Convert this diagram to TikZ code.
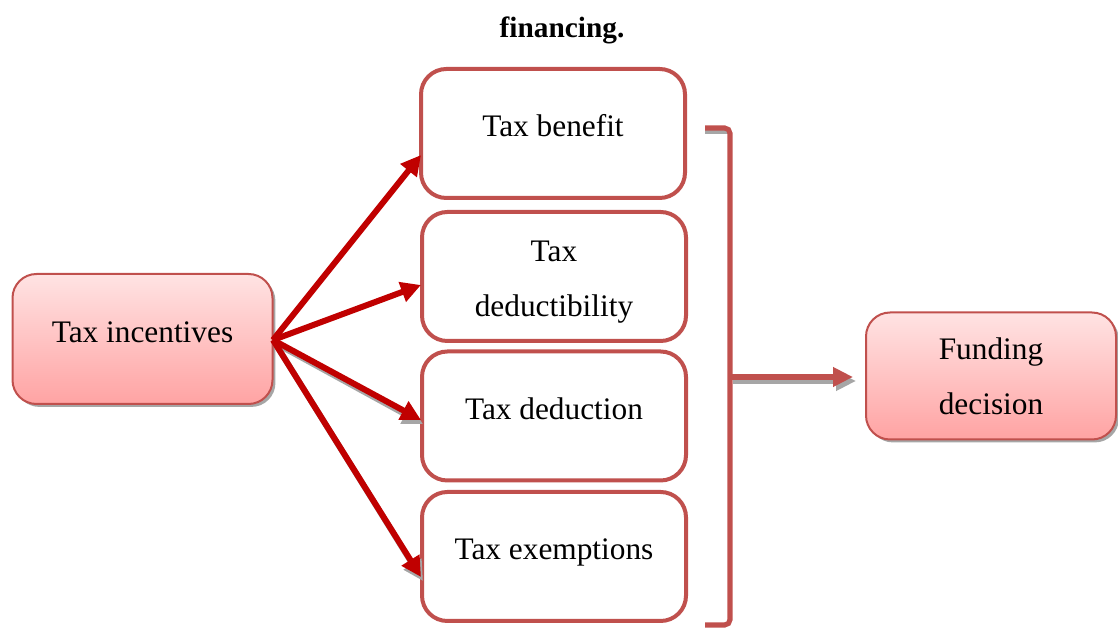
\documentclass[tikz,border=0pt]{standalone}
\usepackage{fontspec}
\setmainfont{Liberation Serif}
\usetikzlibrary{arrows.meta,shadows}
\definecolor{boxred}{HTML}{C0504D}
\definecolor{arrred}{HTML}{C00000}
\definecolor{shade}{HTML}{A6A6A6}
\tikzset{
  x=0.75pt, y=-0.75pt,
  every node/.style={font=\fontsize{23.5}{41}\selectfont, align=center, inner sep=0pt},
  oneline/.style={text height=16pt, text depth=11pt},
  pinkbox/.style={rounded corners=18pt, draw=boxred, line width=1.5pt,
    top color=red!11, bottom color=red!36,
    drop shadow={shadow xshift=2.2pt, shadow yshift=-2.2pt, fill=shade, opacity=1}},
  whitebox/.style={rounded corners=19pt, draw=boxred, line width=3pt, fill=white,
    minimum width=264*0.75pt, minimum height=129*0.75pt},
  redarrow/.style={draw=arrred, line width=4.5pt, -{Triangle[length=15pt,width=15pt]}},
  arrshadow/.style={draw=shade, line width=4.5pt, -{Triangle[length=15pt,width=15pt]}},
  brackline/.style={draw=boxred, line width=3.8pt},
  brackshadow/.style={draw=shade, line width=3.8pt},
}
\begin{document}
\begin{tikzpicture}
\useasboundingbox (0,0) rectangle (1118,630);
\node[font=\fontsize{22}{26}\selectfont\bfseries] (title) at (562,30) {financing.};

\node[pinkbox, oneline, minimum width=260*0.75pt, minimum height=130*0.75pt] (inc) at (142.5,339) {Tax incentives};
\node[pinkbox, minimum width=250*0.75pt, minimum height=127*0.75pt] (fund) at (991,376) {Funding\\decision};

\node[whitebox, oneline] (ben) at (553,133.5) {Tax benefit};
\node[whitebox] (ded) at (554,276.5) {\rule{0pt}{24pt}Tax\\deductibility};
\node[whitebox, oneline] (dedn) at (554,416) {Tax deduction};
\node[whitebox, oneline] (exe) at (554,556.5) {Tax exemptions};

\coordinate (src) at (273,340);
\coordinate (ssrc) at (275,343);
\coordinate (t1) at (421,155);
\coordinate (t2) at (421,285);
\coordinate (t3) at (421,420);
\coordinate (t4) at (421,577);
\coordinate (s3) at (423,424);
\coordinate (s4) at (423,581);
\draw[arrshadow] (ssrc) -- (s3);
\draw[arrshadow] (ssrc) -- (s4);
\draw[redarrow] (src) -- (t1);
\draw[redarrow] (src) -- (t2);
\draw[redarrow] (src) -- (t3);
\draw[redarrow] (src) -- (t4);

% bracket
\coordinate (bt) at (705,128);
\coordinate (btc) at (730,128);
\coordinate (bbc) at (730,625);
\coordinate (bb) at (705,625);
\coordinate (bm) at (730,377);
\coordinate (bts) at (705,131);
\coordinate (btcs) at (728,131);
\draw[brackshadow] (bts) -- (btcs);
\draw[brackline, rounded corners=4pt] (bt) -- (btc) -- (bbc) -- (bb);
\coordinate (bms) at (733,381);
\coordinate (fas) at (856,381);
\coordinate (fa) at (853,377);
\draw[brackshadow, -{Triangle[length=15pt,width=14pt]}] (bms) -- (fas);
\draw[brackline, -{Triangle[length=15pt,width=14pt]}, fill=boxred] (bm) -- (fa);
\end{tikzpicture}
\end{document}
